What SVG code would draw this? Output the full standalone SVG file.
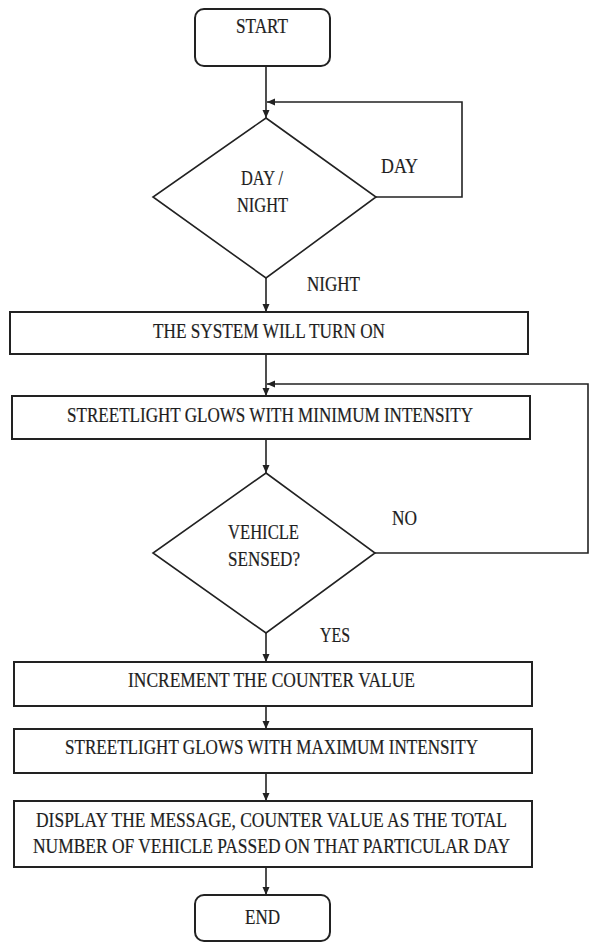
<svg xmlns="http://www.w3.org/2000/svg" width="590" height="943" viewBox="0 0 590 943">
<style>
.box{fill:#fff;stroke:#222;stroke-width:2}
.dia{fill:#fff;stroke:#222;stroke-width:1.6}
.ln{fill:none;stroke:#222;stroke-width:1.6}
.t{font-family:"Liberation Serif","Times New Roman",serif;font-size:20px;fill:#1e1e1e;stroke:#1e1e1e;stroke-width:0.2}
</style>
<defs>
<marker id="ah" markerUnits="userSpaceOnUse" markerWidth="8" markerHeight="8" refX="8" refY="3.5" orient="auto">
<path d="M0,0 L8,3.5 L0,7 z" fill="#222"/>
</marker>
</defs>
<rect width="590" height="943" fill="#fff"/>
<g id="connectors">
<path class="ln" d="M266,66 V118" marker-end="url(#ah)"/>
<path class="ln" d="M376,197 H462 V102 H267" marker-end="url(#ah)"/>
<path class="ln" d="M266,278 V312" marker-end="url(#ah)"/>
<path class="ln" d="M266,354 V396" marker-end="url(#ah)"/>
<path class="ln" d="M266,439 V473" marker-end="url(#ah)"/>
<path class="ln" d="M375,553 H588 V384 H267" marker-end="url(#ah)"/>
<path class="ln" d="M266,633 V662" marker-end="url(#ah)"/>
<path class="ln" d="M266,706 V729" marker-end="url(#ah)"/>
<path class="ln" d="M266,773 V801" marker-end="url(#ah)"/>
<path class="ln" d="M266,867 V895" marker-end="url(#ah)"/>
<text class="t" x="381" y="173" textLength="37" lengthAdjust="spacingAndGlyphs">DAY</text>
<text class="t" x="307" y="291" textLength="53" lengthAdjust="spacingAndGlyphs">NIGHT</text>
<text class="t" x="392" y="525" textLength="25" lengthAdjust="spacingAndGlyphs">NO</text>
<text class="t" x="320" y="642" textLength="30" lengthAdjust="spacingAndGlyphs">YES</text>
</g>
<g id="start">
<rect class="box" x="195" y="9" width="135" height="57" rx="9"/>
<text class="t" x="236" y="33" textLength="52" lengthAdjust="spacingAndGlyphs">START</text>
</g>
<g id="daynight">
<polygon class="dia" points="266,118 376,197 266,278 153,197"/>
<text class="t" x="241" y="185" textLength="42" lengthAdjust="spacingAndGlyphs">DAY /</text>
<text class="t" x="237" y="212" textLength="51" lengthAdjust="spacingAndGlyphs">NIGHT</text>
</g>
<g id="system-on">
<rect class="box" x="10" y="312" width="518" height="42"/>
<text class="t" x="153" y="338" textLength="232" lengthAdjust="spacingAndGlyphs">THE SYSTEM WILL TURN ON</text>
</g>
<g id="min-intensity">
<rect class="box" x="12" y="396" width="518" height="43"/>
<text class="t" x="67" y="422" textLength="406" lengthAdjust="spacingAndGlyphs">STREETLIGHT GLOWS WITH MINIMUM INTENSITY</text>
</g>
<g id="vehicle-sensed">
<polygon class="dia" points="266,473 375,553 266,633 153,553"/>
<text class="t" x="228" y="539" textLength="71" lengthAdjust="spacingAndGlyphs">VEHICLE</text>
<text class="t" x="228" y="566" textLength="72" lengthAdjust="spacingAndGlyphs">SENSED?</text>
</g>
<g id="increment">
<rect class="box" x="14" y="662" width="518" height="44"/>
<text class="t" x="128" y="687" textLength="287" lengthAdjust="spacingAndGlyphs">INCREMENT THE COUNTER VALUE</text>
</g>
<g id="max-intensity">
<rect class="box" x="14" y="729" width="518" height="44"/>
<text class="t" x="65" y="754" textLength="413" lengthAdjust="spacingAndGlyphs">STREETLIGHT GLOWS WITH MAXIMUM INTENSITY</text>
</g>
<g id="display">
<rect class="box" x="14" y="801" width="518" height="66"/>
<text class="t" x="36" y="827" textLength="471" lengthAdjust="spacingAndGlyphs">DISPLAY THE MESSAGE, COUNTER VALUE AS THE TOTAL</text>
<text class="t" x="33" y="853" textLength="477" lengthAdjust="spacingAndGlyphs">NUMBER OF VEHICLE PASSED ON THAT PARTICULAR DAY</text>
</g>
<g id="end">
<rect class="box" x="195" y="895" width="135" height="46" rx="9"/>
<text class="t" x="245" y="924" textLength="35" lengthAdjust="spacingAndGlyphs">END</text>
</g>
</svg>
